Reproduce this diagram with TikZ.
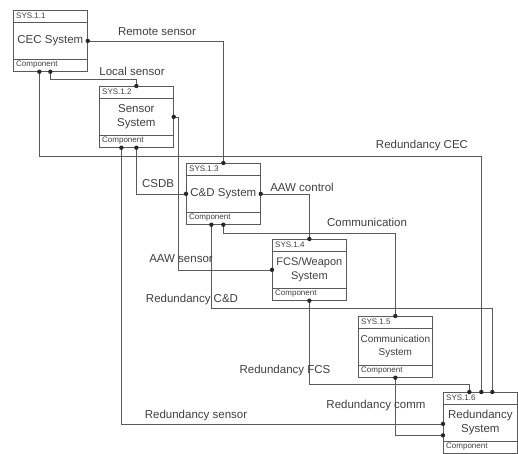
\documentclass[tikz,border=0pt]{standalone}
\usepackage{fontspec}
\setmainfont{Liberation Sans}
\usetikzlibrary{calc}
\definecolor{linec}{HTML}{5A5A5A}
\definecolor{textc}{HTML}{404040}
\tikzset{
  sbox/.style={draw=linec, line width=0.7pt, minimum width=74pt, minimum height=61pt, inner sep=0pt, anchor=north west},
  conn/.style={draw=linec, line width=0.6pt},
  lbl/.style={font=\fontsize{11.5}{13}\selectfont, text=textc, inner sep=0pt},
  boxtxt/.style={font=\fontsize{11.5}{13.5}\selectfont, text=textc, align=center, inner sep=0pt},
  smalltxt/.style={font=\fontsize{8}{8.5}\selectfont, text=textc, anchor=west, inner sep=0pt},
}
\newcommand\sysbox[5]{%
  \node[sbox] (#1) at (#2) {};
  \draw[conn] ($(#1.north west)+(0,12)$) -- ($(#1.north east)+(0,12)$);
  \draw[conn] ($(#1.north west)+(0,49)$) -- ($(#1.north east)+(0,49)$);
  \node[smalltxt] (#1s) at ($(#1.north west)+(3,6)$) {#3};
  \node[boxtxt,#5] (#1t) at ($(#1.north)+(0,30.5)$) {#4};
  \node[smalltxt] (#1c) at ($(#1.north west)+(3,55)$) {Component};
}
\newcommand\dotat[1]{\fill[black!85] (#1) circle (2.2pt);}
\begin{document}
\begin{tikzpicture}[x=1pt,y=-1pt]
\useasboundingbox (0,0) rectangle (518,453);
\fill[white] (0,0) rectangle (518,453);

\sysbox{b1}{13,10}{SYS.1.1}{CEC System}{}
\sysbox{b2}{99,86}{SYS.1.2}{Sensor\\System}{}
\sysbox{b3}{186,163}{SYS.1.3}{C\&D System}{}
\sysbox{b4}{272,239}{SYS.1.4}{FCS/Weapon\\System}{font=\fontsize{11}{13.5}\selectfont}
\sysbox{b5}{358,316}{SYS.1.5}{Communication\\System}{font=\fontsize{10}{12.5}\selectfont}
\sysbox{b6}{443,392}{SYS.1.6}{Redundancy\\System}{}

% connection points
\coordinate (p1r) at (b1.east);
\coordinate (p1b1) at ($(b1.south)+(-11,0)$);
\coordinate (p1b2) at (b1.south);
\coordinate (p2t) at (b2.north);
\coordinate (p2r) at (b2.east);
\coordinate (p2b1) at ($(b2.south)+(-15,0)$);
\coordinate (p2b2) at (b2.south);
\coordinate (p3t) at (b3.north);
\coordinate (p3l) at (b3.west);
\coordinate (p3r) at (b3.east);
\coordinate (p3b1) at ($(b3.south)+(-12,0)$);
\coordinate (p3b2) at (b3.south);
\coordinate (p4t) at (b4.north);
\coordinate (p4l) at (b4.west);
\coordinate (p4b) at (b4.south);
\coordinate (p5t) at (b5.north);
\coordinate (p5b) at (b5.south);
\coordinate (p6t1) at ($(b6.north)+(-11,0)$);
\coordinate (p6t2) at ($(b6.north)+(1,0)$);
\coordinate (p6t3) at ($(b6.north)+(12,0)$);
\coordinate (p6l1) at ($(b6.west)+(0,1)$);
\coordinate (p6l2) at ($(b6.west)+(0,12.5)$);

% connectors
\draw[conn] (p1r) -| (p3t);
\draw[conn] (p1b2) -- ++(0,8) -| (p2t);
\draw[conn] (p1b1) -- ++(0,85) -| (p6t2);
\draw[conn] (p2b2) |- (p3l);
\draw[conn] (p2b1) |- (p6l1);
\draw[conn] (p2r) -- ++(5,0) |- (p4l);
\draw[conn] (p3r) -| (p4t);
\draw[conn] (p3b2) -- ++(0,9) -| (p5t);
\draw[conn] (p3b1) -- ++(0,84) -| (p6t3);
\draw[conn] (p4b) -- ++(0,84) -| (p6t1);
\draw[conn] (p5b) |- (p6l2);

% dots
\foreach \p in {p1r,p1b1,p1b2,p2t,p2r,p2b1,p2b2,p3t,p3l,p3r,p3b1,p3b2,p4t,p4l,p4b,p5t,p5b,p6t1,p6t2,p6t3,p6l1,p6l2}{\dotat{\p}}

% labels
\node[lbl] (lremote) at (157,32) {Remote sensor};
\node[lbl] (llocal) at (132,71) {Local sensor};
\node[lbl] (lrcec) at (422,146) {Redundancy CEC};
\node[lbl] (lcsdb) at (158,184) {CSDB};
\node[lbl] (laawc) at (302,187) {AAW control};
\node[lbl] (lcomm) at (367,222) {Communication};
\node[lbl] (laaws) at (181,259) {AAW sensor};
\node[lbl] (lrcd) at (192,300) {Redundancy C\&D};
\node[lbl] (lrfcs) at (285,371) {Redundancy FCS};
\node[lbl] (lrcomm) at (376,406) {Redundancy comm};
\node[lbl] (lrsens) at (196,416) {Redundancy sensor};
\end{tikzpicture}
\end{document}
